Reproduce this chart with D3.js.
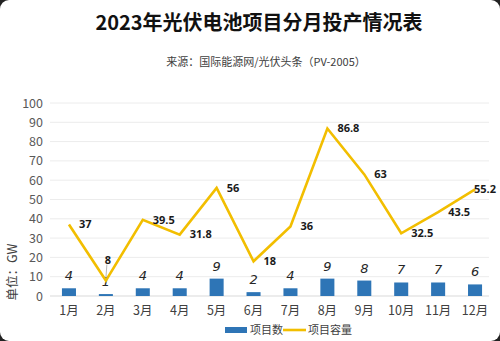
<!DOCTYPE html>
<html><head><meta charset="utf-8">
<script src="https://cdn.jsdelivr.net/npm/d3@7"></script>
<style>
html,body{margin:0;padding:0;background:#222;}
svg{display:block;}
text{font-family:"Noto Sans CJK SC","Noto Sans",sans-serif;}
</style></head>
<body>
<svg id="c" width="500" height="341"></svg>
<script>
const months = ["1月","2月","3月","4月","5月","6月","7月","8月","9月","10月","11月","12月"];
const projectCount = [4,1,4,4,9,2,4,9,8,7,7,6];
const capacity = [37,8,39.5,31.8,56,18,36,86.8,63,32.5,43.5,55.2];
const yTicks = [0,10,20,30,40,50,60,70,80,90,100];
const title = "2023年光伏电池项目分月投产情况表";
const subtitle = "来源：国际能源网/光伏头条（PV-2005）";
const yTitle = "单位：GW";
const legendNames = ["项目数","项目容量"];

const svg = d3.select("#c");
const W = 500, H = 341;
svg.append("rect").attr("width",W).attr("height",H).attr("rx",9).attr("fill","#fff");

const x = d3.scaleBand().domain(months).range([50.5,493.5]).paddingInner(0.62).paddingOuter(0.31);
const y = d3.scaleLinear().domain([0,100]).range([296,103]);
const cx = d => x(d) + x.bandwidth()/2;

// gridlines
svg.append("g").selectAll("line").data(yTicks).join("line")
  .attr("x1",50).attr("x2",489).attr("y1",d=>y(d)).attr("y2",d=>y(d))
  .attr("stroke",d=>d===0?"#d9d9d9":"#ececec").attr("stroke-width",1);

// y axis labels
const yAxis = d3.axisLeft(y).tickValues(yTicks).tickSize(0).tickPadding(0);
const ga = svg.append("g").attr("transform","translate(43,0)").call(yAxis);
ga.select(".domain").remove();
ga.selectAll("text").attr("font-size",12.5).attr("fill","#595959")
  .style("font-family","'Noto Sans CJK SC',sans-serif");

// x axis labels
const xAxis = d3.axisBottom(x).tickSize(0).tickPadding(0);
const gx = svg.append("g").attr("transform","translate(0,306)").call(xAxis);
gx.select(".domain").remove();
gx.selectAll("text").attr("font-size",12.5).attr("fill","#404040")
  .style("font-family","'Noto Sans CJK SC',sans-serif");

// bars
svg.append("g").selectAll("rect").data(months).join("rect")
  .attr("x",d=>x(d)).attr("width",x.bandwidth())
  .attr("y",(d,i)=>y(projectCount[i])).attr("height",(d,i)=>y(0)-y(projectCount[i]))
  .attr("fill","#2E75B6");

// bar labels
svg.append("g").selectAll("text").data(months).join("text")
  .attr("x",d=>cx(d)).attr("y",(d,i)=>y(projectCount[i])-8)
  .attr("text-anchor","middle").attr("font-size",13).attr("font-style","italic")
  .attr("fill","#262626").style("font-family","'DejaVu Sans',sans-serif").style("font-weight","normal")
  .text((d,i)=>projectCount[i]);

// line
const line = d3.line().x((d,i)=>cx(months[i])).y(d=>y(d));
svg.append("path").datum(capacity).attr("d",line)
  .attr("fill","none").attr("stroke","#F2BE00").attr("stroke-width",2.6).attr("stroke-linejoin","miter");

// leader line for Feb label
svg.append("line").attr("x1",cx(months[1])+1).attr("x2",cx(months[1])).attr("y1",y(capacity[1])-16).attr("y2",y(capacity[1])-2)
  .attr("stroke","#a6a6a6").attr("stroke-width",0.8);

// line labels
const last = capacity.length-1;
svg.append("g").selectAll("text").data(capacity).join("text")
  .attr("x",(d,i)=> i===1 ? cx(months[i])+2 : (i===last ? cx(months[i])-1 : cx(months[i])+10))
  .attr("y",(d,i)=> i===1 ? y(d)-20 : y(d))
  .attr("dy","0.35em")
  .attr("text-anchor",(d,i)=> i===1?"middle":"start")
  .attr("font-size",11).attr("font-weight","bold").attr("fill","#1a1a1a")
  .style("font-family","'Open Sans','Noto Sans',sans-serif")
  .text(d=>d);

// title
svg.append("text").attr("x",259).attr("y",30).attr("text-anchor","middle")
  .attr("font-size",20).attr("font-weight","bold").attr("fill","#111").text(title);
svg.append("text").attr("x",266).attr("y",66).attr("text-anchor","middle")
  .attr("font-size",11).attr("fill","#404040").text(subtitle);

// y title
svg.append("text").attr("transform","translate(17,272) rotate(-90)").attr("text-anchor","middle")
  .attr("font-size",12.5).attr("fill","#404040").text(yTitle);

// legend
svg.append("rect").attr("x",225).attr("y",327).attr("width",22).attr("height",6).attr("fill","#2E75B6");
svg.append("text").attr("x",250).attr("y",334).attr("font-size",11).attr("fill","#404040").text(legendNames[0]);
svg.append("line").attr("x1",283).attr("x2",306).attr("y1",330).attr("y2",330).attr("stroke","#F2BE00").attr("stroke-width",2.6);
svg.append("text").attr("x",308).attr("y",334).attr("font-size",11).attr("fill","#404040").text(legendNames[1]);
</script>
</body></html>
